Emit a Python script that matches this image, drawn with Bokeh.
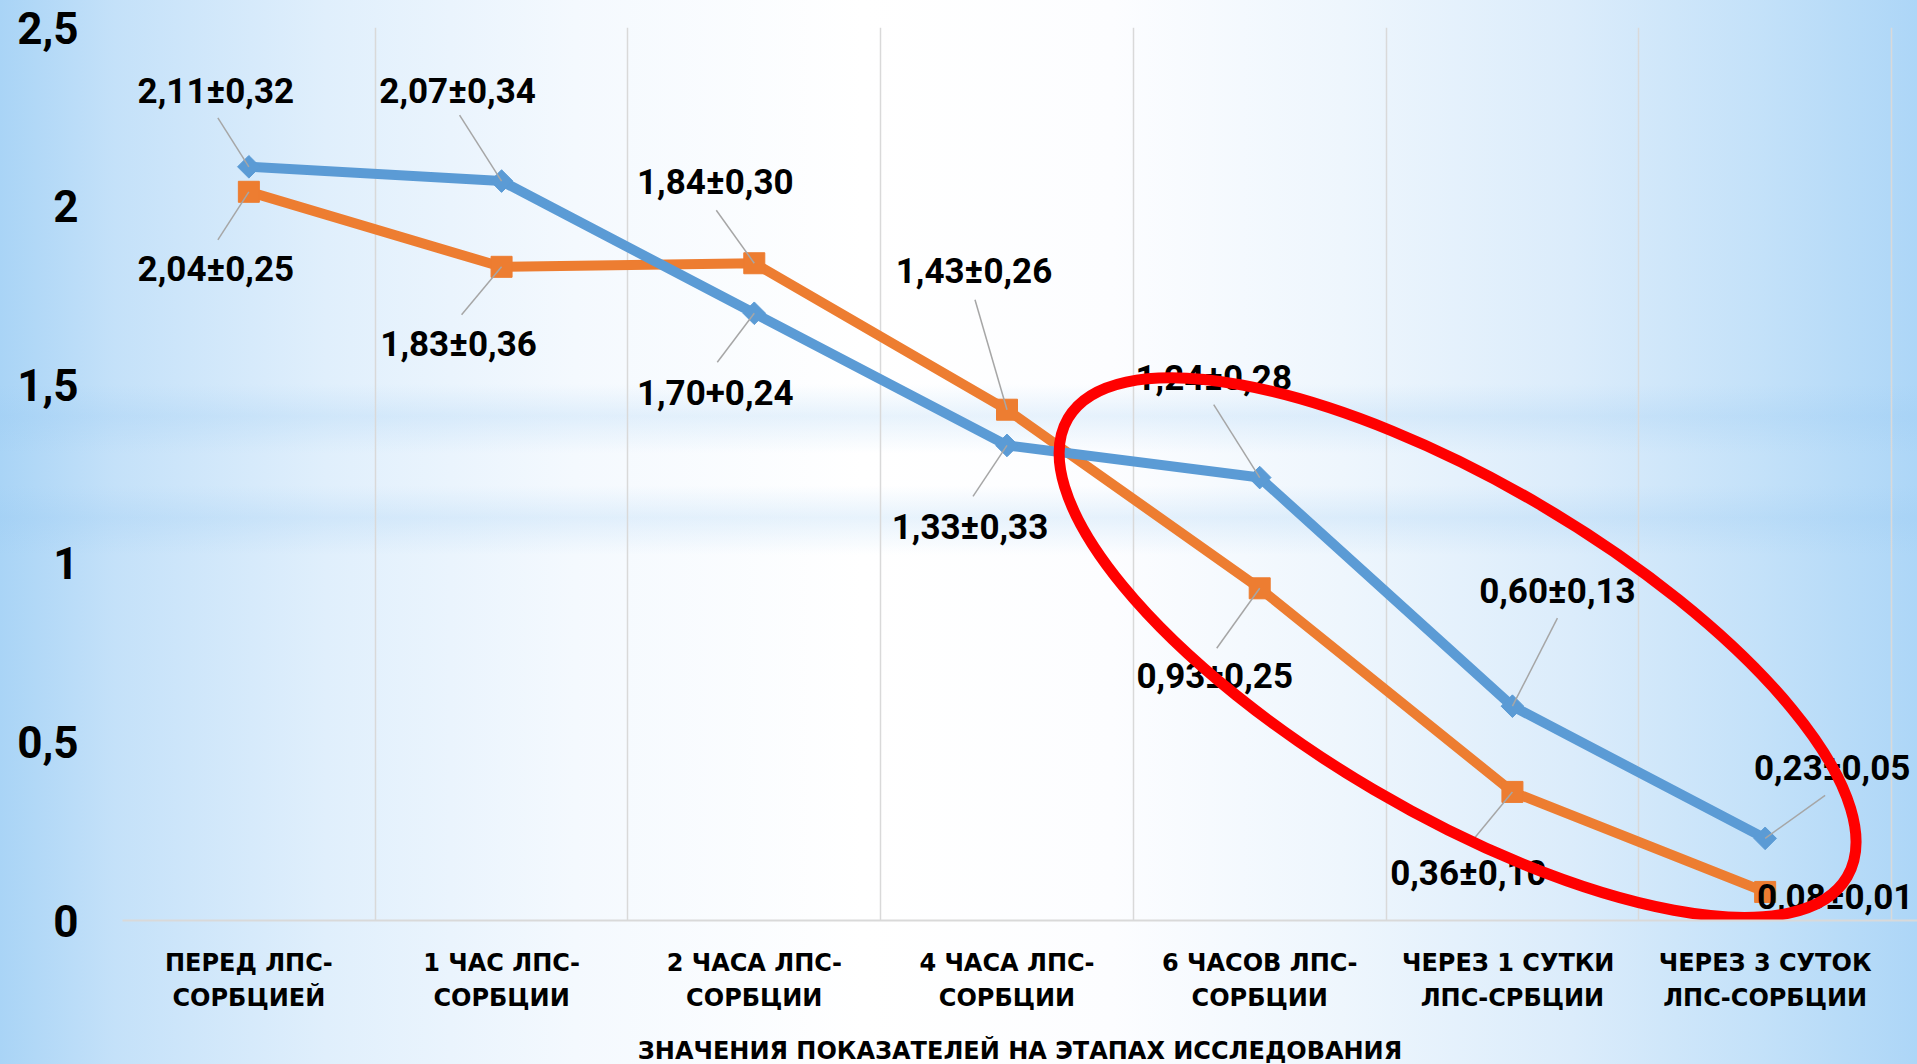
from bokeh.plotting import figure
from bokeh.models import FixedTicker, Range1d, InlineStyleSheet
from bokeh.core.properties import value
from bokeh.embed import file_html
from bokeh.resources import INLINE

# ---------------- data ----------------
categories = [
    "ПЕРЕД ЛПС-\nСОРБЦИЕЙ",
    "1 ЧАС ЛПС-\nСОРБЦИИ",
    "2 ЧАСА ЛПС-\nСОРБЦИИ",
    "4 ЧАСА ЛПС-\nСОРБЦИИ",
    "6 ЧАСОВ ЛПС-\nСОРБЦИИ",
    "ЧЕРЕЗ  1 СУТКИ\nЛПС-СРБЦИИ",
    "ЧЕРЕЗ 3 СУТОК\nЛПС-СОРБЦИИ",
]
blue_values = [2.11, 2.07, 1.70, 1.33, 1.24, 0.60, 0.23]
orange_values = [2.04, 1.83, 1.84, 1.43, 0.93, 0.36, 0.08]
blue_labels = ["2,11±0,32", "2,07±0,34", "1,70+0,24", "1,33±0,33",
               "1,24±0,28", "0,60±0,13", "0,23±0,05"]
orange_labels = ["2,04±0,25", "1,83±0,36", "1,84±0,30", "1,43±0,26",
                 "0,93±0,25", "0,36±0,10", "0,08±0,01"]
y_ticks = [0, 0.5, 1, 1.5, 2, 2.5]
y_tick_labels = ["0", "0,5", "1", "1,5", "2", "2,5"]
x_title = "ЗНАЧЕНИЯ ПОКАЗАТЕЛЕЙ НА ЭТАПАХ ИССЛЕДОВАНИЯ"

# ---------------- layout / style ----------------
FRAME_W_CATS = 1769          # pixels spanned by the 7 categories
FRAME_H = 893
SX = FRAME_W_CATS / 7.0      # px per category
EXTRA_RIGHT = 26             # frame extends a bit past the last gridline
SY = FRAME_H / 2.5           # px per y unit

# label offsets in screen px (dx right, dy down) relative to the data point
blue_text_off = [(-33, -75), (-44, -90), (-39, 79), (-37, 82), (-46, -99), (45, -115), (67, -70)]
blue_lead_off = [(-31, -49), (-42, -66), (-37, 49), (-34, 51), (-46, -73), (45, -88), (60, -43)]
orange_text_off = [(-33, 78), (-43, 78), (-39, -81), (-33, -138), (-45, 88), (-44, 82), (70, 6)]
orange_lead_off = [(-31, 48), (-40, 48), (-38, -53), (-32, -110), (-43, 60), (-42, 51), (0, 0)]

# highlight ellipse (annotation), centre in data units, size in screen px
ELL_X, ELL_Y = 4.783, 0.764
ELL_W, ELL_H, ELL_ANGLE = 904, 330, -0.532

BLUE = "#5B9BD5"
ORANGE = "#ED7D31"
GRID = "#d9d9d9"

xs = list(range(len(categories)))

p = figure(
    output_backend="svg", toolbar_location=None,
    frame_width=FRAME_W_CATS + EXTRA_RIGHT, frame_height=FRAME_H,
    min_border_left=122, min_border_right=0, min_border_top=27, min_border_bottom=144,
    x_range=Range1d(-0.5, 6.5 + EXTRA_RIGHT / SX), y_range=Range1d(0, 2.5),
)
p.background_fill_color = None
p.border_fill_color = None
p.outline_line_color = None

css = """
:host {
  background:
    linear-gradient(to bottom,
      rgba(150,200,242,0) 36%, rgba(150,200,242,0.22) 39%, rgba(150,200,242,0) 42.5%,
      rgba(150,200,242,0) 45.5%, rgba(150,200,242,0.22) 48.5%, rgba(150,200,242,0) 52%),
    linear-gradient(to right,
      #a9d4f6 0%, #c4e1f9 6%, #e0effc 17%, #f4f9fe 30%, #ffffff 45%,
      #fcfdff 58%, #eef6fd 70%, #dbecfb 82%, #c3e1f9 92%, #add6f7 100%);
}
"""
p.stylesheets = [InlineStyleSheet(css=css)]

# grid
p.ygrid.grid_line_color = None
p.xgrid.ticker = FixedTicker(ticks=[-0.5 + i for i in range(8)])
p.xgrid.grid_line_color = GRID
p.xgrid.grid_line_width = 1.5

# x axis
p.xaxis.ticker = FixedTicker(ticks=xs)
p.xaxis.major_label_overrides = {i: c for i, c in enumerate(categories)}
p.xaxis.major_tick_line_color = None
p.xaxis.minor_tick_line_color = None
p.xaxis.axis_line_color = GRID
p.xaxis.axis_line_width = 2
p.xaxis.major_label_text_font = "DejaVu Sans"
p.xaxis.major_label_text_font_style = "bold"
p.xaxis.major_label_text_font_size = "24px"
p.xaxis.major_label_text_color = "black"
p.xaxis.major_label_text_line_height = 1.25
p.xaxis.major_label_standoff = 22
p.xaxis.axis_label = x_title
p.xaxis.axis_label_text_font = "DejaVu Sans"
p.xaxis.axis_label_text_font_style = "bold"
p.xaxis.axis_label_text_font_size = "24px"
p.xaxis.axis_label_text_color = "black"
p.xaxis.axis_label_standoff = 22

# y axis
p.yaxis.ticker = FixedTicker(ticks=y_ticks)
p.yaxis.major_label_overrides = {t: l for t, l in zip(y_ticks, y_tick_labels)}
p.yaxis.axis_line_color = None
p.yaxis.major_tick_line_color = None
p.yaxis.minor_tick_line_color = None
p.yaxis.major_label_text_font = "Roboto"
p.yaxis.major_label_text_font_style = "bold"
p.yaxis.major_label_text_font_size = "44px"
p.yaxis.major_label_text_color = "black"
p.yaxis.major_label_standoff = 38

# series
p.line(xs, orange_values, line_color=ORANGE, line_width=10)
p.line(xs, blue_values, line_color=BLUE, line_width=10)
p.scatter(xs, orange_values, marker="square", size=21, fill_color=ORANGE, line_color=ORANGE)
p.scatter(xs, blue_values, marker="square", angle=0.785398, size=16,
          fill_color=BLUE, line_color=BLUE)


def place(vals, offs):
    return ([x + dx / SX for x, (dx, dy) in zip(xs, offs)],
            [v - dy / SY for v, (dx, dy) in zip(vals, offs)])


for vals, text_off, lead_off, labels in (
    (blue_values, blue_text_off, blue_lead_off, blue_labels),
    (orange_values, orange_text_off, orange_lead_off, orange_labels),
):
    lx, ly = place(vals, lead_off)
    p.segment(x0=lx, y0=ly, x1=xs, y1=vals, line_color="#a6a6a6", line_width=1.5)
    tx, ty = place(vals, text_off)
    p.text(x=tx, y=ty, text=labels, text_font=value("Roboto"), text_font_style="bold",
           text_font_size="35px", text_align="center", text_baseline="middle",
           text_color="black")

# highlight ellipse
p.ellipse(x=[ELL_X], y=[ELL_Y], width=ELL_W, height=ELL_H, angle=ELL_ANGLE,
          width_units="screen", height_units="screen",
          fill_color=None, line_color="#ff0000", line_width=11)

open("out.html", "w").write(file_html(p, INLINE))
